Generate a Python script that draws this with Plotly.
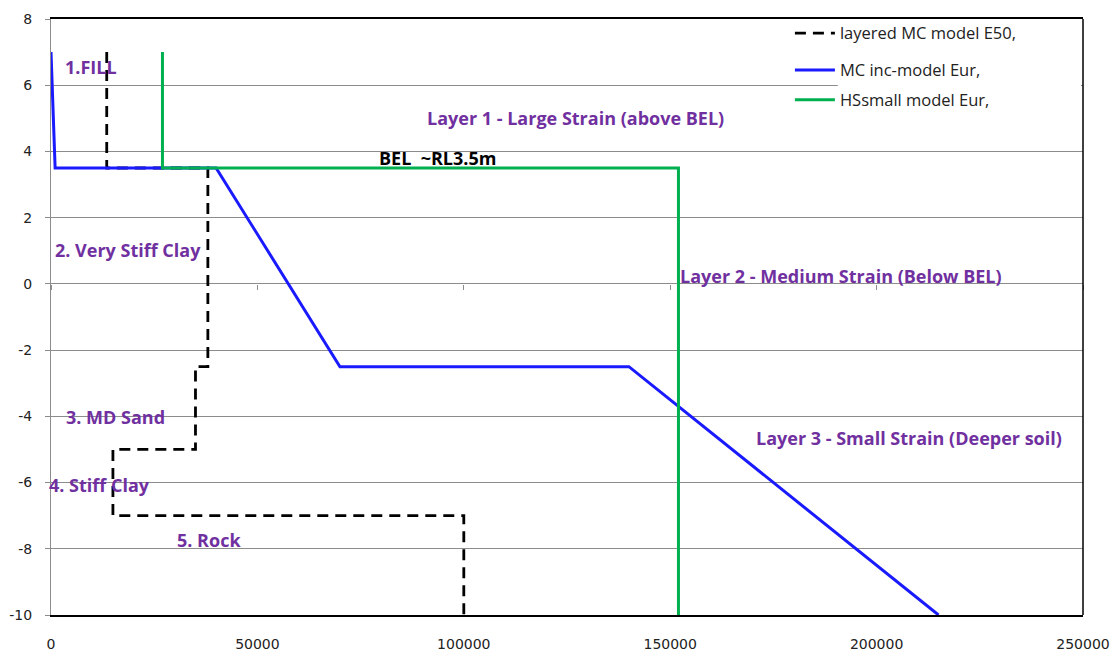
import plotly.graph_objects as go

# Stiffness profiles (x: stiffness, y: reduced level in m)
e50_x = [13500, 13500, 38000, 38000, 35000, 35000, 15000, 15000, 100000, 100000]
e50_y = [7, 3.5, 3.5, -2.5, -2.5, -5, -5, -7, -7, -10]

mc_eur_x = [0, 1000, 40000, 70000, 140000, 215000]
mc_eur_y = [7, 3.5, 3.5, -2.5, -2.5, -10]

hs_eur_x = [27000, 27000, 152000, 152000]
hs_eur_y = [7, 3.5, 3.5, -10]

series_names = ["layered MC model E50,", "MC inc-model Eur,", "HSsmall model Eur,"]

x_ticks = [0, 50000, 100000, 150000, 200000, 250000]
y_ticks = [-10, -8, -6, -4, -2, 0, 2, 4, 6, 8]

# Layer labels: (text, x, y, colour)
labels = [
    ("1.FILL", 2900, 6.55, "#7030A0"),
    ("Layer 1 - Large Strain (above BEL)", 90600, 5.0, "#7030A0"),
    ("BEL  ~RL3.5m", 79000, 3.8, "#000000"),
    ("2. Very Stiff Clay", 500, 1.02, "#7030A0"),
    ("Layer 2 - Medium Strain (Below BEL)", 151900, 0.24, "#7030A0"),
    ("3. MD Sand", 3100, -4.02, "#7030A0"),
    ("Layer 3 - Small Strain (Deeper soil)", 170300, -4.66, "#7030A0"),
    ("5. Rock", 30000, -7.74, "#7030A0"),
]
# label sitting just left of the y axis
edge_label = ("4. Stiff Clay", -6.08, "#7030A0")

LABEL_FONT = "Open Sans"

fig = go.Figure()
fig.add_trace(go.Scatter(x=e50_x, y=e50_y, mode="lines", name=series_names[0],
                         legend="legend",
                         line=dict(color="#000000", width=2.8, dash="11px,7px")))
fig.add_trace(go.Scatter(x=mc_eur_x, y=mc_eur_y, mode="lines", name=series_names[1],
                         legend="legend2",
                         line=dict(color="#1A1AFF", width=3)))
fig.add_trace(go.Scatter(x=hs_eur_x, y=hs_eur_y, mode="lines", name=series_names[2],
                         legend="legend3",
                         line=dict(color="#00B050", width=3)))
# invisible trace carrying the tick marks along the y = 0 line
fig.add_trace(go.Scatter(x=x_ticks, y=[0] * len(x_ticks), xaxis="x2", mode="lines",
                         line=dict(width=0), hoverinfo="skip", showlegend=False))

for text, x, y, col in labels:
    fig.add_annotation(x=x, y=y, text=f"<b>{text}</b>", showarrow=False,
                       xanchor="left", yanchor="middle",
                       font=dict(family=LABEL_FONT, size=18, color=col))
fig.add_annotation(xref="paper", x=0, y=edge_label[1], xshift=-4,
                   text=f"<b>{edge_label[0]}</b>", showarrow=False,
                   xanchor="left", yanchor="middle",
                   font=dict(family=LABEL_FONT, size=18, color=edge_label[2]))

# white panel behind the legend text, over the grid
fig.add_shape(type="rect", xref="x", yref="y", x0=190600, x1=249500, y0=5.0, y1=7.95,
              fillcolor="white", line=dict(width=0), layer="between")
# right border
fig.add_shape(type="line", xref="paper", yref="paper", x0=1, x1=1, y0=0, y1=1,
              line=dict(color="#000000", width=1.5))

legend_font = dict(family=LABEL_FONT, size=16.5, color="#222222")
legend_common = dict(x=0.716, xanchor="left", yanchor="middle",
                     bgcolor="rgba(0,0,0,0)", borderwidth=0, font=legend_font,
                     itemwidth=40)

fig.update_layout(
    width=1117, height=653,
    margin=dict(l=51, r=34, t=19, b=38),
    paper_bgcolor="white", plot_bgcolor="white",
    showlegend=True,
    legend=dict(y=0.976, **legend_common),
    legend2=dict(y=0.914, **legend_common),
    legend3=dict(y=0.864, **legend_common),
    font=dict(family="DejaVu Sans", size=14, color="#222222"),
    xaxis=dict(range=[0, 250000], tickvals=x_ticks,
               ticktext=[str(v) for v in x_ticks], automargin=False,
               showgrid=False, zeroline=False, showline=True,
               linecolor="#000000", linewidth=1.5, mirror=True, ticks="",
               ticklabelstandoff=15,
               tickfont=dict(family="DejaVu Sans", size=14, color="#222222")),
    xaxis2=dict(overlaying="x", matches="x", anchor="free", position=10 / 18,
                side="bottom", showticklabels=False, ticks="outside", ticklen=5,
                tickcolor="#8C8C8C", tickvals=x_ticks, showgrid=False,
                zeroline=False, showline=False, automargin=False),
)
fig.update_yaxes(range=[-10, 8], tickvals=y_ticks, ticktext=[str(v) for v in y_ticks],
                 automargin=False, showgrid=True, gridcolor="#8C8C8C",
                 gridwidth=1, zeroline=False, showline=True, linecolor="#8C8C8C",
                 linewidth=1, ticks="outside", ticklen=5, tickcolor="#8C8C8C",
                 ticklabelstandoff=10,
                 tickfont=dict(family="DejaVu Sans", size=14, color="#222222"))

fig.write_html("out.html")
